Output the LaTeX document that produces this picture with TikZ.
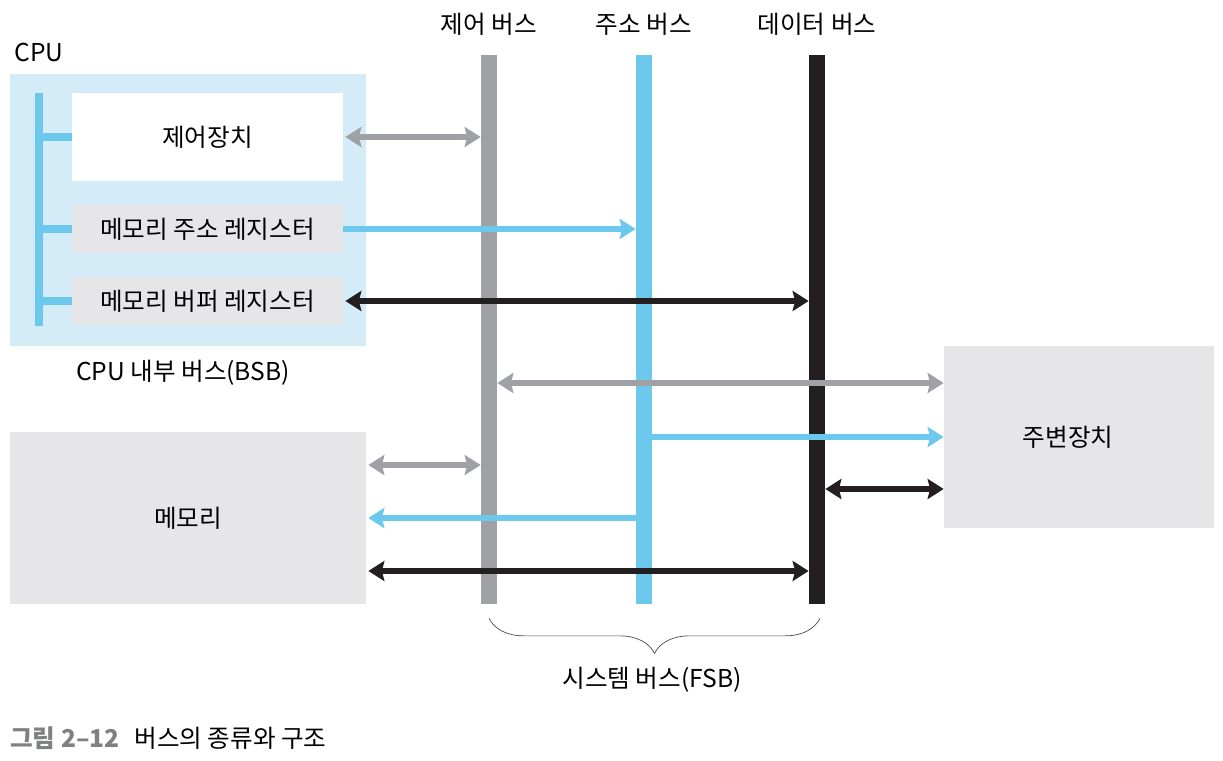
\documentclass[tikz,border=0pt]{standalone}
\usepackage{fontspec}
\setmainfont{Noto Sans CJK KR}
\usetikzlibrary{arrows.meta,decorations.pathreplacing,positioning}
\definecolor{cpublue}{HTML}{D3ECF8}
\definecolor{busblue}{HTML}{6DC8EE}
\definecolor{busgray}{HTML}{A0A1A5}
\definecolor{busblack}{HTML}{231F20}
\definecolor{boxgray}{HTML}{E6E6E8}
\definecolor{capgray}{HTML}{7F8083}
\begin{document}
\begin{tikzpicture}[font=\fontsize{14}{16}\selectfont,
					>={Stealth[length=0.32cm,width=0.4cm,inset=0.05cm]},
					reg node/.style = {rectangle, inner sep=0pt, minimum width=5.42cm},
					bus node/.style = {rectangle, inner sep=0pt, minimum width=0.32cm, minimum height=10.98cm},
					link/.style = {line width=0.12cm},
					stub/.style = {line width=0.16cm, busblue}]
					
					\useasboundingbox (0,0) rectangle (24.46,-15.22);
					
					\node[rectangle, fill=cpublue, inner sep=0pt, minimum width=7.12cm, minimum height=5.44cm] (cpu) at (3.76,-4.2) {};
					\node[anchor=west, inner sep=0pt] (cpulabel) at (0.28,-1.04) {CPU};
					\node[reg node, fill=white, minimum height=1.76cm] (ctrl) at (4.15,-2.74) {제어장치};
					\node[reg node, fill=boxgray, minimum height=0.96cm] (mar) at (4.15,-4.58) {메모리 주소 레지스터};
					\node[reg node, fill=boxgray, minimum height=0.96cm] (mbr) at (4.15,-6.02) {메모리 버퍼 레지스터};
					\node[rectangle, fill=busblue, inner sep=0pt, minimum width=0.16cm, minimum height=4.66cm] (ibus) at (0.78,-4.19) {};
					\node (bsb) at (3.66,-7.46) {CPU 내부 버스(BSB)};
					
					\draw[stub] (ibus.east |- ctrl.west) -- (ctrl.west);
					\draw[stub] (ibus.east |- mar.west) -- (mar.west);
					\draw[stub] (ibus.east |- mbr.west) -- (mbr.west);
					
					\node[rectangle, fill=boxgray, inner sep=0pt, minimum width=7.12cm, minimum height=3.44cm] (mem) at (3.76,-10.36) {메모리};
					\node[rectangle, fill=boxgray, inner sep=0pt, minimum width=5.4cm, minimum height=3.64cm] (periph) at (21.58,-8.74) {};
					\node at (21.36,-8.74) (periphlabel) {주변장치};
					
					\node[bus node, fill=busgray] (cbus) at (9.78,-6.59) {};
					\node[bus node, fill=busblue] (abus) at (12.88,-6.59) {};
					\node[bus node, fill=busblack] (dbus) at (16.34,-6.59) {};
					\node at (9.78,-0.48) (cbuslabel) {제어 버스};
					\node at (12.88,-0.48) (abuslabel) {주소 버스};
					\node at (16.34,-0.48) (dbuslabel) {데이터 버스};
					
					\draw[link, busgray, <->] ([xshift=0.04cm]ctrl.east) -- (ctrl.east -| cbus.west);
					\draw[link, busblue, ->] (mar.east) -- (mar.east -| abus.west);
					\draw[link, busblack, <->] ([xshift=0.04cm]mbr.east) -- (mbr.east -| dbus.west);
					
					\draw[link, busgray, <->] ([yshift=1.08cm]periph.west -| cbus.east) -- ([yshift=1.08cm]periph.west);
					\draw[link, busblue, ->] (periph.west -| abus.east) -- (periph.west);
					\draw[link, busblack, <->] ([yshift=-1.04cm]periph.west -| dbus.east) -- ([yshift=-1.04cm]periph.west);
					
					\draw[link, busgray, <->] ([yshift=1.06cm,xshift=0.04cm]mem.east) -- ([yshift=1.06cm]mem.east -| cbus.west);
					\draw[link, busblue, ->] (mem.east -| abus.west) -- ([xshift=0.04cm]mem.east);
					\draw[link, busblack, <->] ([yshift=-1.06cm,xshift=0.04cm]mem.east) -- ([yshift=-1.06cm]mem.east -| dbus.west);
					
					\draw[decorate, decoration={brace, amplitude=0.7cm, mirror}, thin, black!70] ([yshift=-0.28cm]cbus.south) -- ([xshift=0.06cm,yshift=-0.28cm]dbus.south);
					\node at (13.04,-13.6) (fsb) {시스템 버스(FSB)};
					
					\node[anchor=west, inner sep=0pt] at (0.2,-14.76) (caption) {\textbf{\color{capgray}그림 2–12}\hspace{0.6em}버스의 종류와 구조};
					
					\end{tikzpicture}
\end{document}
